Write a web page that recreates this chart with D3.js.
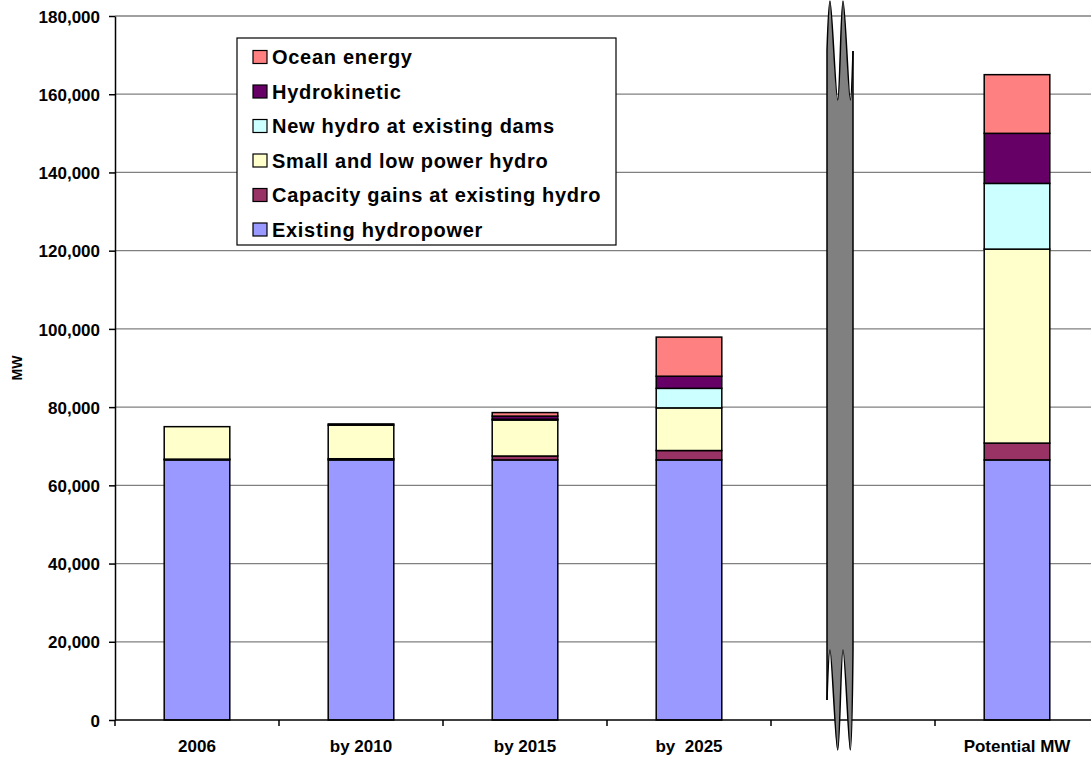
<!DOCTYPE html>
<html lang="en">
<head>
<meta charset="UTF-8">
<title>Hydropower capacity</title>
<script src="https://d3js.org/d3.v7.min.js"></script>
<style type="text/css">
body { margin: 0; background: #fff; }
svg text { font-family: "Liberation Sans", Arial, sans-serif; font-weight: bold; fill: #000; }
.xlab { white-space: pre; }
</style>
</head>
<body>
<div id="chart"></div>
<script>
  // categories and series values (MW)
  var categories = ["2006", "by 2010", "by 2015", "by  2025", "", "Potential MW"];
  var existing     = [66500, 66500, 66500, 66500, 0, 66500];
  var capacity     = [  200,   300,  1000,  2400, 0,  4300];
  var smallHydro   = [ 8300,  8600,  9200, 10900, 0, 49600];
  var newHydro     = [    0,     0,   200,  5000, 0, 16800];
  var hydrokinetic = [    0,   300,   800,  3100, 0, 12800];
  var ocean        = [    0,     0,   900, 10000, 0, 15000];

  var seriesNames = ["Existing hydropower", "Capacity gains at existing hydro", "Small and low power hydro",
                     "New hydro at existing dams", "Hydrokinetic", "Ocean energy"];
  var seriesColors = ["#9999FF", "#993366", "#FFFFCC", "#CCFFFF", "#660066", "#FF8080"];
  var yTicks = [0, 20000, 40000, 60000, 80000, 100000, 120000, 140000, 160000, 180000];

  var width = 1091, height = 761;
  var plotLeft = 115, plotTop = 16, plotBottom = 720;

  var svg = d3.select("#chart")
    .append("svg")
      .attr("width", width)
      .attr("height", height)

  // build rows for d3.stack
  var cols = [existing, capacity, smallHydro, newHydro, hydrokinetic, ocean];
  var rows = categories.map(function(c, i) {
    var r = { cat: c };
    seriesNames.forEach(function(s, j) { r[s] = cols[j][i]; });
    return r;
  });
  var stacked = d3.stack().keys(seriesNames)(rows);

  var x = d3.scaleBand().domain(categories).range([plotLeft, 1099]).padding(0);
  var y = d3.scaleLinear().domain([0, 180000]).range([plotBottom, plotTop]);
  var barW = x.bandwidth() * 0.4;

  // gridlines
  svg.append("g")
    .selectAll("line")
    .data(yTicks.filter(function(t) { return t > 0; }))
    .enter().append("line")
      .attr("x1", plotLeft)
      .attr("x2", width)
      .attr("y1", function(d) { return y(d); })
      .attr("y2", function(d) { return y(d); })
      .attr("stroke", "#808080")
      .attr("stroke-width", 1.3)

  // y axis
  var yAxis = svg.append("g")
    .attr("transform", "translate(" + plotLeft + ",0)")
    .call(d3.axisLeft(y).tickValues(yTicks).tickSize(6).tickSizeOuter(0).tickPadding(9).tickFormat(d3.format(",")));
  yAxis.select(".domain").attr("stroke", "#000").attr("stroke-width", 1.5);
  yAxis.selectAll(".tick line").attr("stroke", "#000").attr("stroke-width", 1.5);
  yAxis.selectAll("text").style("font-size", "17px").attr("dy", "0.36em");

  // stacked bars
  svg.append("g")
    .selectAll("g")
    .data(stacked)
    .enter().append("g")
      .attr("fill", function(d, i) { return seriesColors[i]; })
    .selectAll("rect")
    .data(function(d) { return d.filter(function(p) { return p[1] - p[0] > 0; }); })
    .enter().append("rect")
      .attr("x", function(d) { return x(d.data.cat) + (x.bandwidth() - barW) / 2; })
      .attr("width", barW)
      .attr("y", function(d) { return y(d[1]); })
      .attr("height", function(d) { return y(d[0]) - y(d[1]); })
      .attr("stroke", "#000")
      .attr("stroke-width", 1.5)

  // x axis
  var xAxis = svg.append("g")
    .attr("transform", "translate(0," + plotBottom + ")");
  xAxis.append("line")
    .attr("x1", plotLeft).attr("x2", width)
    .attr("stroke", "#000").attr("stroke-width", 1.5)
  xAxis.selectAll(".tk")
    .data(categories)
    .enter().append("line")
      .attr("x1", function(d) { return x(d); })
      .attr("x2", function(d) { return x(d); })
      .attr("y1", 0).attr("y2", 6)
      .attr("stroke", "#000").attr("stroke-width", 1.5)
  xAxis.selectAll("text")
    .data(categories)
    .enter().append("text")
      .attr("class", "xlab")
      .attr("x", function(d) { return x(d) + x.bandwidth() / 2; })
      .attr("y", 32)
      .attr("text-anchor", "middle")
      .style("font-size", "17px")
      .text(function(d) { return d; })

  // axis break symbol in the empty category
  var bx = x("") + x.bandwidth() / 2 - 26;
  var wave = d3.line().curve(d3.curveCatmullRom.alpha(0.5));
  var topPts = [[0, plotTop + 34], [3, plotTop - 15], [10.7, plotTop + 84], [16, plotTop - 15], [23.3, plotTop + 84], [26, plotTop + 35]];
  var botPts = [[26, plotBottom - 70], [23.3, plotBottom + 30], [16, plotBottom - 70], [10.7, plotBottom + 30], [3, plotBottom - 70], [0, plotBottom - 20]];
  var brk = svg.append("g").attr("transform", "translate(" + bx + ",0)");
  brk.append("path")
    .attr("d", wave(topPts) + wave(botPts).replace("M", "L") + "Z")
    .attr("fill", "#808080")
    .attr("stroke", "none")
  brk.append("path").attr("d", wave(topPts)).attr("fill", "none").attr("stroke", "#000").attr("stroke-width", 1.5)
  brk.append("path").attr("d", wave(botPts)).attr("fill", "none").attr("stroke", "#000").attr("stroke-width", 1.5)
  brk.append("line").attr("x1", 0).attr("x2", 0).attr("y1", plotTop + 34).attr("y2", plotBottom - 20)
    .attr("stroke", "#000").attr("stroke-width", 1.5)
  brk.append("line").attr("x1", 26).attr("x2", 26).attr("y1", plotTop + 35).attr("y2", plotBottom - 70)
    .attr("stroke", "#000").attr("stroke-width", 1.5)

  // y axis title
  svg.append("text")
    .attr("transform", "translate(22,368) rotate(-90)")
    .attr("text-anchor", "middle")
    .style("font-size", "14px")
    .text("MW")

  // legend
  var legend = svg.append("g").attr("transform", "translate(237,38)");
  legend.append("rect")
    .attr("width", 379).attr("height", 207)
    .attr("fill", "#fff").attr("stroke", "#000").attr("stroke-width", 1.2)
  var items = legend.selectAll(".item")
    .data(seriesNames.slice().reverse())
    .enter().append("g")
      .attr("transform", function(d, i) { return "translate(0," + (19 + i * 34.5) + ")"; })
  items.append("rect")
    .attr("x", 16).attr("y", -6.5).attr("width", 14).attr("height", 13)
    .attr("fill", function(d) { return seriesColors[seriesNames.indexOf(d)]; })
    .attr("stroke", "#000").attr("stroke-width", 1.2)
  items.append("text")
    .attr("x", 35).attr("y", 0).attr("dy", "0.36em")
    .style("font-size", "20px")
    .style("letter-spacing", "0.7px")
    .text(function(d) { return d; })
</script>
</body>
</html>
